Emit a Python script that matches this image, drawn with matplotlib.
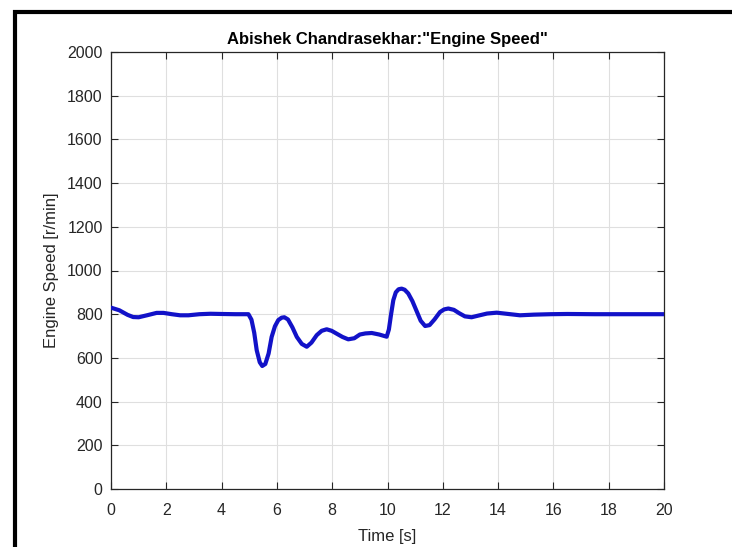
import numpy as np
import matplotlib
matplotlib.use("Agg")
import matplotlib.pyplot as plt
from matplotlib.patches import Rectangle

# Engine speed trace, read point by point
time_s = [0.0, 0.3, 0.6, 0.8, 1.0, 1.3, 1.65, 1.9, 2.2, 2.5, 2.8, 3.2,
          3.6, 4.0, 4.5, 4.97, 5.08, 5.18, 5.27, 5.38, 5.47, 5.58, 5.7,
          5.81, 5.93, 6.05, 6.17, 6.27, 6.4, 6.56, 6.72, 6.9, 7.08, 7.25,
          7.44, 7.62, 7.8, 7.98, 8.16, 8.37, 8.58, 8.8, 9.0, 9.2, 9.43,
          9.7, 9.97, 10.05, 10.13, 10.21, 10.3, 10.4, 10.51, 10.62, 10.75,
          10.9, 11.05, 11.2, 11.36, 11.52, 11.7, 11.9, 12.05, 12.2, 12.4,
          12.6, 12.8, 13.04, 13.3, 13.6, 13.95, 14.3, 14.79, 15.3, 15.9,
          16.5, 17.5, 18.5, 20.0]
speed_rpm = [830, 818, 797, 787, 786, 795, 806, 806, 800, 795, 795, 800,
             802, 801, 800, 800, 775, 715, 635, 580, 563, 572, 620,
             696, 745, 773, 784, 786, 776, 740, 696, 664, 651, 670,
             704, 724, 731, 724, 711, 696, 685, 690, 707, 712, 714,
             707, 697, 730, 800, 864, 900, 914, 917, 912, 895,
             860, 815, 770, 746, 750, 776, 810, 822, 826, 820,
             804, 790, 786, 794, 803, 807, 802, 795, 798, 800,
             801, 800, 800, 800]

x_ticks = np.arange(0, 21, 2)
y_ticks = np.arange(0, 2001, 200)

TXT = "#262626"
GRID = "#dfdfdf"
LINE = "#1212c8"

plt.rcParams["font.family"] = ["Liberation Sans", "DejaVu Sans"]

fig = plt.figure(figsize=(7.32, 5.47), dpi=100, facecolor="white")
ax = fig.add_axes([111 / 732, 1 - 489 / 547, 553 / 732, 437 / 547])

ax.plot(time_s, speed_rpm, color=LINE, lw=3, solid_joinstyle="round",
        solid_capstyle="round", zorder=3)

ax.set_xlim(0, 20)
ax.set_ylim(0, 2000)
ax.set_xticks(x_ticks)
ax.set_yticks(y_ticks)
ax.grid(True, color=GRID, lw=0.8, zorder=0)
ax.set_axisbelow(True)

ax.tick_params(direction="in", length=5, width=0.8, color=TXT,
               labelcolor=TXT, labelsize=11.5, top=True, right=True)
ax.tick_params(axis="y", pad=6)
ax.tick_params(axis="x", pad=10)
for sp in ax.spines.values():
    sp.set_color(TXT)
    sp.set_linewidth(0.9)

ax.set_xlabel("Time [s]", fontsize=12, color=TXT, labelpad=8)
ax.set_ylabel("Engine Speed [r/min]", fontsize=12, color=TXT, labelpad=6)
ax.set_title('Abishek Chandrasekhar:"Engine Speed"', fontsize=12,
             fontweight="bold", color="black", pad=6)

# thick black frame, cut off at the right and bottom edges
fig.patches.append(Rectangle((15 / 732, -0.2), 1.2, 1.2 - 11.5 / 547,
                             transform=fig.transFigure, fill=False,
                             edgecolor="black", lw=3, clip_on=False))

fig.savefig("out.png", dpi=100, facecolor="white")
